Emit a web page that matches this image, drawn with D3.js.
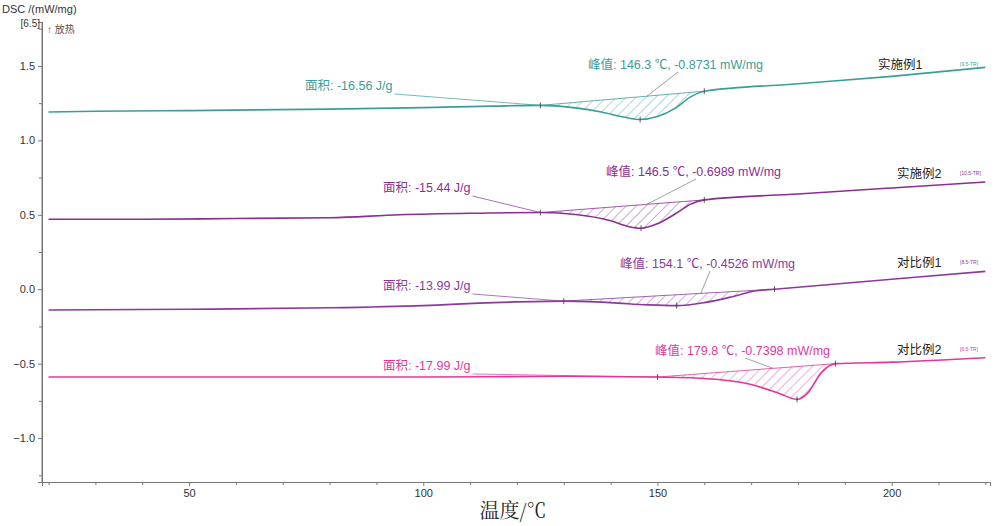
<!DOCTYPE html>
<html><head><meta charset="utf-8">
<script src="https://cdn.jsdelivr.net/npm/d3@7"></script>
<style>body{margin:0;background:#fff}text{font-family:"Liberation Sans","Noto Sans CJK SC",sans-serif}</style>
</head><body><svg id="c" width="1000" height="526"></svg>
<script>
const seriesNames=["实施例1","实施例2","对比例1","对比例2"];
const seriesTags=["[9.5-TR]","[10.5-TR]","[8.5-TR]","[6.5-TR]"];
const colors=["#3a9e98","#8a2e92","#8b3a9c","#e0389a"];
const s1=[[20,1.19],[30,1.195],[50,1.2],[80,1.21],[100,1.22],[115,1.23],[125,1.235],[132,1.22],[138,1.19],[143,1.155],[146.3,1.14],[150,1.16],[154,1.22],[157,1.29],[160,1.33],[180,1.38],[200,1.43],[220,1.49]];
const s2=[[20,0.47],[40,0.47],[60,0.475],[80,0.48],[95,0.5],[110,0.51],[125,0.515],[133,0.5],[140,0.46],[144,0.42],[146.5,0.41],[150,0.44],[154,0.51],[157,0.57],[160,0.6],[180,0.64],[200,0.68],[220,0.72]];
const s3=[[20,-0.14],[50,-0.135],[80,-0.125],[100,-0.11],[115,-0.09],[130,-0.08],[140,-0.09],[148,-0.105],[154.1,-0.11],[160,-0.09],[166,-0.05],[171,-0.01],[175,0.0],[190,0.04],[205,0.08],[220,0.12]];
const s4=[[20,-0.59],[50,-0.59],[100,-0.59],[130,-0.585],[150,-0.59],[160,-0.6],[170,-0.64],[176,-0.7],[179.8,-0.74],[182,-0.7],[185,-0.56],[188,-0.5],[200,-0.49],[220,-0.46]];
const baseStart=[125,125,130,150];
const baseEnd=[160,160,175,188];
const peakT=[146.3,146.5,154.1,179.8];
const areaLabels=["面积: -16.56 J/g","面积: -15.44 J/g","面积: -13.99 J/g","面积: -17.99 J/g"];
const peakLabels=["峰值: 146.3 ℃, -0.8731 mW/mg","峰值: 146.5 ℃, -0.6989 mW/mg","峰值: 154.1 ℃, -0.4526 mW/mg","峰值: 179.8 ℃, -0.7398 mW/mg"];
const xTicks=[50,100,150,200];
const yTicks=[1.5,1.0,0.5,0.0,-0.5,-1.0];
const allSeries=[s1,s2,s3,s4];
const areaPos=[[305,90],[383,192],[383,290],[383,370]];
const peakPos=[[588,69],[606,176],[620,268],[655,355]];
const namePos=[[878,69],[897,178],[897,267],[897,354]];

const svg=d3.select("#c");
const x=d3.scaleLinear().domain([18.6,221]).range([42,990]);
const y=d3.scaleLinear().domain([-1.295,1.795]).range([482,22]);
const g=svg.append("g");
g.append("g").attr("transform","translate(0,482)").call(d3.axisBottom(x).tickValues(xTicks).tickSize(4).tickFormat(d3.format("d")));
g.append("g").attr("transform","translate(0,482)").call(d3.axisBottom(x).tickValues(d3.range(20,221,10).filter(v=>!xTicks.includes(v))).tickSize(3).tickFormat(""));
g.append("g").attr("transform","translate(42,0)").call(d3.axisLeft(y).tickValues(yTicks).tickSize(4).tickFormat(d3.format(".1f")));
g.append("g").attr("transform","translate(42,0)").call(d3.axisLeft(y).tickValues(d3.range(-1.25,1.76,0.25).filter(v=>Math.abs(v*2-Math.round(v*2))>0.01)).tickSize(3).tickFormat(""));
g.selectAll(".domain").attr("stroke","#777");
g.selectAll(".tick line").attr("stroke","#777");
g.selectAll(".tick text").attr("font-size",11).attr("fill","#333");
g.append("line").attr("x1",42).attr("x2",42).attr("y1",22).attr("y2",482).attr("stroke","#777");
svg.append("text").attr("x",2).attr("y",13).attr("font-size",11).attr("fill","#333").text("DSC /(mW/mg)");
svg.append("text").attr("x",40).attr("y",27).attr("text-anchor","end").attr("font-size",10).attr("fill","#333").text("[6.5]");
svg.append("text").attr("x",47).attr("y",33).attr("font-size",10).attr("fill","#555").text("↑ 放热");
svg.append("text").attr("x",513).attr("y",518).attr("text-anchor","middle").attr("font-size",20)
  .style("font-family","'Noto Serif CJK SC','Liberation Serif',serif").attr("fill","#222").text("温度/℃");

const defs=svg.append("defs");
const line=d3.line().x(d=>x(d[0])).y(d=>y(d[1])).curve(d3.curveMonotoneX);
allSeries.forEach((s,i)=>{
  const c=colors[i];
  const p=defs.append("pattern").attr("id","h"+i).attr("patternUnits","userSpaceOnUse").attr("width",7).attr("height",7).attr("patternTransform","rotate(45)");
  p.append("line").attr("x1",0).attr("y1",0).attr("x2",0).attr("y2",7).attr("stroke",c).attr("stroke-width",0.8);
  const interp=t=>{for(let k=0;k<s.length-1;k++){if(t>=s[k][0]&&t<=s[k+1][0]){const f=(t-s[k][0])/(s[k+1][0]-s[k][0]);return s[k][1]+f*(s[k+1][1]-s[k][1]);}}return s[s.length-1][1];};
  const b0=[baseStart[i],interp(baseStart[i])], b1=[baseEnd[i],interp(baseEnd[i])];
  const bl=t=>b0[1]+(t-b0[0])/(b1[0]-b0[0])*(b1[1]-b0[1]);
  const sub=s.filter(d=>d[0]>=b0[0]&&d[0]<=b1[0]);
  svg.append("path").datum(sub).attr("fill","url(#h"+i+")").attr("stroke","none")
    .attr("d",d3.area().x(d=>x(d[0])).y0(d=>y(bl(d[0]))).y1(d=>y(d[1])).curve(d3.curveMonotoneX));
  svg.append("line").attr("x1",x(b0[0])).attr("y1",y(b0[1])).attr("x2",x(b1[0])).attr("y2",y(b1[1])).attr("stroke",c).attr("stroke-width",0.8);
  svg.append("path").datum(s).attr("fill","none").attr("stroke",c).attr("stroke-width",1.6).attr("d",line);
  const pk=[peakT[i],interp(peakT[i])];
  [b0,b1,pk].forEach(d=>svg.append("line").attr("x1",x(d[0])).attr("x2",x(d[0])).attr("y1",y(d[1])-3).attr("y2",y(d[1])+3).attr("stroke","#333").attr("stroke-width",0.8));
  const at=svg.append("text").attr("x",areaPos[i][0]).attr("y",areaPos[i][1]).attr("font-size",12.5).attr("fill",c).text(areaLabels[i]);
  const aw=at.node().getComputedTextLength();
  svg.append("line").attr("x1",areaPos[i][0]+aw+2).attr("y1",areaPos[i][1]+4).attr("x2",x(b0[0])).attr("y2",y(b0[1])).attr("stroke",c).attr("stroke-width",0.7);
  svg.append("text").attr("x",peakPos[i][0]).attr("y",peakPos[i][1]).attr("font-size",12.5).attr("fill",c).text(peakLabels[i]);
  const mid=(b0[0]+b1[0])/2+(b1[0]-b0[0])*0.15;
  svg.append("line").attr("x1",peakPos[i][0]+90).attr("y1",peakPos[i][1]+3).attr("x2",x(mid)).attr("y2",y(bl(mid))).attr("stroke","#777").attr("stroke-width",0.7);
  svg.append("text").attr("x",namePos[i][0]).attr("y",namePos[i][1]).attr("font-size",12.5).attr("fill","#222").text(seriesNames[i]);
  svg.append("text").attr("x",960).attr("y",namePos[i][1]-3).attr("font-size",5).attr("fill",c).text(seriesTags[i]);
});
</script></body></html>
